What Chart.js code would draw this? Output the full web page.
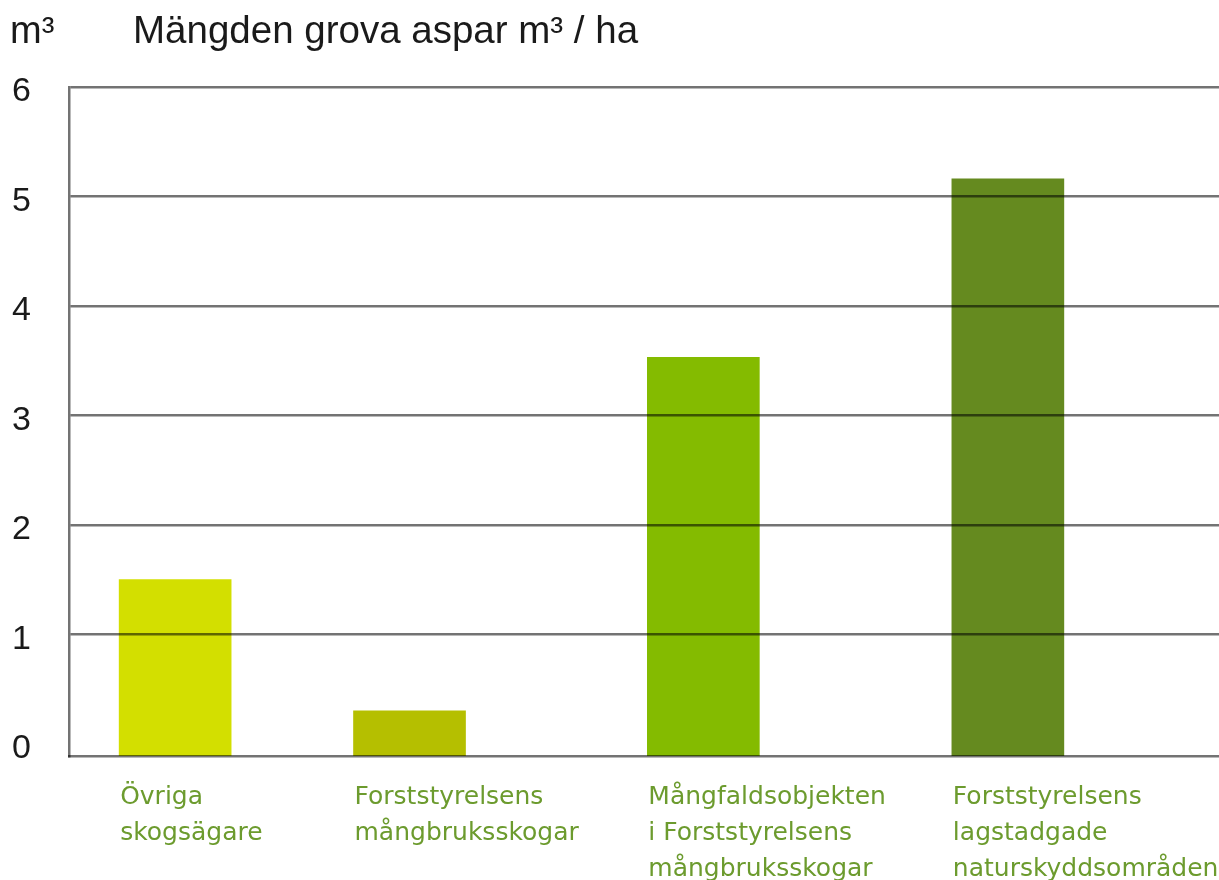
<!DOCTYPE html>
<html>
<head>
<meta charset="utf-8">
<script src="https://cdn.jsdelivr.net/npm/chart.js@4"></script>
<style>
  html, body { margin: 0; padding: 0; background: #fff; }
  canvas { display: block; }
</style>
</head>
<body>
<canvas id="AsparChart" width="1219" height="880"></canvas>
<script>
var Categories = [
    ['Övriga', 'skogsägare'],
    ['Forststyrelsens', 'mångbruksskogar'],
    ['Mångfaldsobjekten', 'i Forststyrelsens', 'mångbruksskogar'],
    ['Forststyrelsens', 'lagstadgade', 'naturskyddsområden']
];
var Values = [1.50, 0.30, 3.53, 5.16];
var YTicks = [0, 1, 2, 3, 4, 5, 6];
var BarColors = ['#d3df00', '#b5bf00', '#84bb00', '#658a1f'];

// layout: where each bar sits across the plot (fraction of width)
var barSlot = [0.0923, 0.2961, 0.5516, 0.8164];
var Y_MIN = -0.113;
var gridColor = 'rgba(0,0,0,0.55)';
var labelColor = '#6c9b2e';

var textPlugin = {
    id: 'textPlugin',
    afterDraw: function(chart) {
        var ctx = chart.ctx;
        ctx.save();
        ctx.fillStyle = '#1a1a1a';
        ctx.textBaseline = 'alphabetic';
        ctx.textAlign = 'left';
        ctx.font = '38px "Liberation Sans"';
        ctx.fillText('m³', 10, 43);
        ctx.font = '38.5px "Liberation Sans"';
        ctx.fillText('Mängden grova aspar m³ / ha', 133, 43);

        // category names under each bar, left aligned to the bar
        var meta = chart.getDatasetMeta(0);
        ctx.fillStyle = labelColor;
        ctx.font = '25px "DejaVu Sans"';
        meta.data.forEach(function(bar, i) {
            var left = bar.x - bar.width / 2;
            Categories[i].forEach(function(line, k) {
                ctx.fillText(line, left + 1, chart.chartArea.bottom + 48 + k * 36);
            });
        });
        ctx.restore();
    }
};

new Chart(document.getElementById('AsparChart'), {
    type: 'bar',
    data: {
        datasets: [{
            data: Values.map(function(v, i) { return {x: barSlot[i], y: v}; }),
            backgroundColor: BarColors,
            barThickness: 112,
            base: Y_MIN,
            borderWidth: 0
        }]
    },
    plugins: [textPlugin],
    options: {
        responsive: false,
        animation: false,
        devicePixelRatio: 1,
        layout: { padding: { top: 87, right: 0, left: 0, bottom: 0 } },
        plugins: {
            legend: { display: false },
            tooltip: { enabled: false }
        },
        scales: {
            x: {
                type: 'linear',
                min: 0,
                max: 1,
                offset: false,
                ticks: { display: false },
                grid: { display: false, drawTicks: false, offset: false },
                border: { display: true, color: gridColor, width: 2.5, z: 1 },
                afterFit: function(scale) { scale.height = 124; }
            },
            y: {
                min: Y_MIN,
                max: 6,
                afterBuildTicks: function(scale) {
                    scale.ticks = YTicks.map(function(v) { return {value: v}; });
                },
                ticks: {
                    padding: 38,
                    labelOffset: 5,
                    color: '#1a1a1a',
                    font: { family: '"Liberation Sans"', size: 34 }
                },
                grid: {
                    z: 1,
                    drawTicks: false,
                    lineWidth: 2.5,
                    color: function(c) { return c.tick && c.tick.value === 0 ? 'rgba(0,0,0,0)' : gridColor; }
                },
                border: { display: true, color: gridColor, width: 2.5, z: 1 },
                afterFit: function(scale) { scale.width = 69; }
            }
        }
    }
});
</script>
</body>
</html>
